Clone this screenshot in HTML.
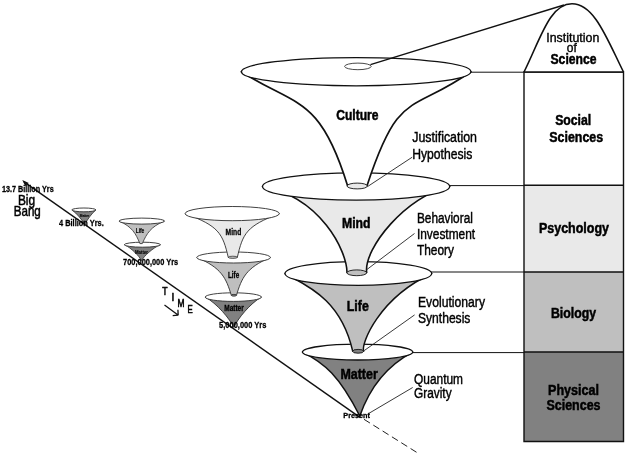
<!DOCTYPE html>
<html><head><meta charset="utf-8"><title>Tree of Knowledge</title>
<style>
html,body{margin:0;padding:0;background:#fff;}
body{width:639px;height:458px;overflow:hidden;}
svg{display:block;font-family:"Liberation Sans",sans-serif;filter:grayscale(1) blur(0.3px);}
</style></head><body>
<svg width="639" height="458" viewBox="0 0 639 458">
<rect x="0" y="0" width="639" height="458" fill="#fff"/>
<rect x="524" y="72" width="99.5" height="113.2" fill="#fff"/>
<rect x="524" y="185.2" width="99.5" height="87" fill="#e9e9e9"/>
<rect x="524" y="272" width="99.5" height="80" fill="#bfbfbf"/>
<rect x="524" y="352" width="99.5" height="89.5" fill="#818181"/>
<path d="M524,72 V441.5 H623.5 V72 Z M524,185.2 H623.5 M524,272 H623.5 M524,352 H623.5" fill="none" stroke="#111" stroke-width="1.4"/>
<path d="M524,72 C540.5,39 549.5,3.8 572,3.8 C594.5,3.8 607,39 623.5,72" fill="#fff" stroke="#111" stroke-width="1.6"/>
<path d="M524,72 H623.5" stroke="#111" stroke-width="1.4"/>
<path d="M471,72.2 H524 M449.7,185.6 H524 M430,272 H524 M412.7,352.6 H524" stroke="#111" stroke-width="1" fill="none"/>
<path d="M24,181.9 L360.3,417.6" stroke="#111" stroke-width="1.4" fill="none"/>
<path d="M22.3,180.1 L28.8,182.9 L25.2,186.1 Z" fill="#111"/>
<path d="M364,419.3 L418,453.2" stroke="#222" stroke-width="1" stroke-dasharray="7,4" fill="none"/>
<path d="M302.5,352.1 C324.5,363.0 339.2,375.9 359.8,416.0 C369.3,388.5 385.4,366.5 412.7,352.1 Z" fill="#818181" stroke="#111" stroke-width="1.5" stroke-linejoin="round"/>
<ellipse cx="357.6" cy="352.1" rx="55.1" ry="7.9" fill="#fff" stroke="#111" stroke-width="1.3"/>
<path d="M285.0,273.5 C306.9,285.7 340.9,299.1 352.7,351.2 L363.6,351.2 C361.2,343.6 378.4,298.4 431.7,273.5 Z" fill="#bfbfbf" stroke="#111" stroke-width="1.5" stroke-linejoin="round"/>
<ellipse cx="358.35" cy="273.5" rx="73.35" ry="11.9" fill="#fff" stroke="#111" stroke-width="1.3"/>
<ellipse cx="358.1" cy="351.3" rx="5.5" ry="1.9" fill="#818181" stroke="#111" stroke-width="0.9"/>
<path d="M262.5,186.5 C320.4,197.0 346.9,250.7 347.0,272.5 L366.7,272.5 C363.4,248.6 406.5,195.4 449.7,186.5 Z" fill="#e9e9e9" stroke="#111" stroke-width="1.6" stroke-linejoin="round"/>
<ellipse cx="356.1" cy="186.5" rx="93.6" ry="13.6" fill="#fff" stroke="#111" stroke-width="1.3"/>
<ellipse cx="356.8" cy="272.8" rx="9.9" ry="2.9" fill="#bfbfbf" stroke="#111" stroke-width="0.9"/>
<path d="M241.4,71.7 C296.1,106.9 319.5,94.9 347.5,185.5 L367.1,185.5 C399.0,88.4 410.5,113.9 470.9,71.7 Z" fill="#fff" stroke="#111" stroke-width="1.7" stroke-linejoin="round"/>
<ellipse cx="356.15" cy="71.7" rx="114.75" ry="14.1" fill="#fff" stroke="#111" stroke-width="1.3"/>
<ellipse cx="357.2" cy="186" rx="10.2" ry="2.9" fill="#e9e9e9" stroke="#111" stroke-width="0.9"/>
<ellipse cx="357.9" cy="66.4" rx="13.3" ry="3.3" fill="#fff" stroke="#333" stroke-width="0.9"/>
<path d="M370.5,64.6 L564,5" stroke="#111" stroke-width="1.5" fill="none"/>
<path d="M367.5,186.6 L412.2,157.2 M366.8,269.6 L414.5,233.5 M364.2,350.6 L414.6,314.9 M368.5,413.6 L412.7,387.5" stroke="#222" stroke-width="0.9" fill="none"/>
<text x="336.2" y="120.1" font-size="14.5" stroke="#000" stroke-width="0.5" font-weight="bold" textLength="42.3" lengthAdjust="spacingAndGlyphs" fill="#000">Culture</text>
<text x="342" y="228.2" font-size="14.5" stroke="#000" stroke-width="0.5" font-weight="bold" textLength="28.5" lengthAdjust="spacingAndGlyphs" fill="#000">Mind</text>
<text x="346.8" y="311.4" font-size="14.5" stroke="#000" stroke-width="0.5" font-weight="bold" textLength="22" lengthAdjust="spacingAndGlyphs" fill="#000">Life</text>
<text x="340.4" y="379.1" font-size="14.5" stroke="#000" stroke-width="0.5" font-weight="bold" textLength="37.4" lengthAdjust="spacingAndGlyphs" fill="#000">Matter</text>
<text x="343.3" y="417.5" font-size="8" stroke="#000" stroke-width="0.3" font-weight="bold" textLength="26.7" lengthAdjust="spacingAndGlyphs" fill="#000">Present</text>
<text x="412.2" y="142.3" font-size="13.8" stroke="#000" stroke-width="0.4" textLength="64.8" lengthAdjust="spacingAndGlyphs" fill="#000">Justification</text>
<text x="412.2" y="158.5" font-size="13.8" stroke="#000" stroke-width="0.4" textLength="60.1" lengthAdjust="spacingAndGlyphs" fill="#000">Hypothesis</text>
<text x="416.9" y="222.8" font-size="13.8" stroke="#000" stroke-width="0.4" textLength="56" lengthAdjust="spacingAndGlyphs" fill="#000">Behavioral</text>
<text x="416.9" y="238.9" font-size="13.8" stroke="#000" stroke-width="0.4" textLength="58.2" lengthAdjust="spacingAndGlyphs" fill="#000">Investment</text>
<text x="416.9" y="254.9" font-size="13.8" stroke="#000" stroke-width="0.4" textLength="37.1" lengthAdjust="spacingAndGlyphs" fill="#000">Theory</text>
<text x="418" y="306.8" font-size="13.8" stroke="#000" stroke-width="0.4" textLength="67" lengthAdjust="spacingAndGlyphs" fill="#000">Evolutionary</text>
<text x="418" y="322.5" font-size="13.8" stroke="#000" stroke-width="0.4" textLength="52.4" lengthAdjust="spacingAndGlyphs" fill="#000">Synthesis</text>
<text x="414" y="384.2" font-size="13.8" stroke="#000" stroke-width="0.4" textLength="49" lengthAdjust="spacingAndGlyphs" fill="#000">Quantum</text>
<text x="414" y="397.8" font-size="13.8" stroke="#000" stroke-width="0.4" textLength="37.6" lengthAdjust="spacingAndGlyphs" fill="#000">Gravity</text>
<text x="572.8" y="41.5" font-size="13.5" stroke="#000" stroke-width="0.4" text-anchor="middle" textLength="53" lengthAdjust="spacingAndGlyphs" fill="#000">Institution</text>
<text x="571.8" y="52" font-size="13.5" stroke="#000" stroke-width="0.4" text-anchor="middle" textLength="10" lengthAdjust="spacingAndGlyphs" fill="#000">of</text>
<text x="573.5" y="63.5" font-size="14.5" stroke="#000" stroke-width="0.5" font-weight="bold" text-anchor="middle" textLength="46" lengthAdjust="spacingAndGlyphs" fill="#000">Science</text>
<text x="573.2" y="124.6" font-size="14.5" stroke="#000" stroke-width="0.5" font-weight="bold" text-anchor="middle" textLength="36" lengthAdjust="spacingAndGlyphs" fill="#000">Social</text>
<text x="576.2" y="142" font-size="14.5" stroke="#000" stroke-width="0.5" font-weight="bold" text-anchor="middle" textLength="53.8" lengthAdjust="spacingAndGlyphs" fill="#000">Sciences</text>
<text x="574" y="233" font-size="14.5" stroke="#000" stroke-width="0.5" font-weight="bold" text-anchor="middle" textLength="70" lengthAdjust="spacingAndGlyphs" fill="#000">Psychology</text>
<text x="573.5" y="318" font-size="14.5" stroke="#000" stroke-width="0.5" font-weight="bold" text-anchor="middle" textLength="45" lengthAdjust="spacingAndGlyphs" fill="#000">Biology</text>
<text x="573.5" y="395" font-size="14.5" stroke="#000" stroke-width="0.5" font-weight="bold" text-anchor="middle" textLength="51" lengthAdjust="spacingAndGlyphs" fill="#000">Physical</text>
<text x="573.5" y="410" font-size="14.5" stroke="#000" stroke-width="0.5" font-weight="bold" text-anchor="middle" textLength="54" lengthAdjust="spacingAndGlyphs" fill="#000">Sciences</text>
<path d="M71.9,209.9 C77.1,213.6 82.2,220.1 84.8,224.5 C87.0,220.1 91.5,213.6 95.9,209.9 Z" fill="#818181" stroke="#2c2c2c" stroke-width="0.8" stroke-linejoin="round"/>
<ellipse cx="83.9" cy="209.9" rx="12" ry="1.9" fill="#fff" stroke="#2c2c2c" stroke-width="0.9"/>
<path d="M124.4,244.7 C131.2,247.9 139.3,256.1 141.5,260.6 C144.0,256.1 152.8,247.9 160.4,244.7 Z" fill="#818181" stroke="#2c2c2c" stroke-width="0.8" stroke-linejoin="round"/>
<ellipse cx="142.4" cy="244.7" rx="18" ry="2.5" fill="#fff" stroke="#2c2c2c" stroke-width="0.9"/>
<path d="M119.2,221.1 C132.0,226.7 135.8,233.5 139.9,243.6 L142.3,243.6 C146.7,233.5 150.7,226.7 164.4,221.1 Z" fill="#bfbfbf" stroke="#2c2c2c" stroke-width="0.8" stroke-linejoin="round"/>
<ellipse cx="141.8" cy="221.1" rx="22.6" ry="3.0" fill="#fff" stroke="#2c2c2c" stroke-width="0.9"/>
<path d="M205.2,297.1 C216.6,303.2 230.1,319.0 233.8,327.5 C237.4,319.0 250.4,303.2 261.4,297.1 Z" fill="#818181" stroke="#2c2c2c" stroke-width="0.9" stroke-linejoin="round"/>
<ellipse cx="233.3" cy="297.1" rx="28.1" ry="4.3" fill="#fff" stroke="#2c2c2c" stroke-width="0.9"/>
<path d="M196.8,257.5 C221.6,267.7 226.1,278.2 231.3,295.2 L236.5,295.2 C241.6,278.2 246.0,267.7 270.4,257.5 Z" fill="#bfbfbf" stroke="#2c2c2c" stroke-width="0.9" stroke-linejoin="round"/>
<ellipse cx="233.6" cy="257.5" rx="36.8" ry="5.5" fill="#fff" stroke="#2c2c2c" stroke-width="0.9"/>
<ellipse cx="233.9" cy="295.3" rx="2.6" ry="0.9" fill="#818181" stroke="#222" stroke-width="0.7"/>
<path d="M185.1,213.6 C218.8,225.9 222.7,233.4 228.3,257.5 L237.3,257.5 C242.8,233.4 246.5,225.9 279.3,213.6 Z" fill="#e9e9e9" stroke="#2c2c2c" stroke-width="0.9" stroke-linejoin="round"/>
<ellipse cx="232.2" cy="213.6" rx="47.1" ry="7.1" fill="#fff" stroke="#2c2c2c" stroke-width="0.9"/>
<ellipse cx="232.8" cy="257.3" rx="4.5" ry="1.1" fill="#bfbfbf" stroke="#222" stroke-width="0.7"/>
<text x="233.4" y="234.9" font-size="8.2" stroke="#000" stroke-width="0.3" font-weight="bold" text-anchor="middle" textLength="15.7" lengthAdjust="spacingAndGlyphs" fill="#000">Mind</text>
<text x="233.6" y="278.2" font-size="8.2" stroke="#000" stroke-width="0.3" font-weight="bold" text-anchor="middle" textLength="11.2" lengthAdjust="spacingAndGlyphs" fill="#000">Life</text>
<text x="234" y="310.9" font-size="8.2" stroke="#000" stroke-width="0.3" font-weight="bold" text-anchor="middle" textLength="19.5" lengthAdjust="spacingAndGlyphs" fill="#000">Matter</text>
<text x="140" y="232.9" font-size="6.5" stroke="#000" stroke-width="0.15" font-weight="bold" text-anchor="middle" textLength="8.7" lengthAdjust="spacingAndGlyphs" fill="#000">Life</text>
<text x="141.5" y="253.6" font-size="5" stroke="#000" stroke-width="0.1" font-weight="bold" text-anchor="middle" textLength="13" lengthAdjust="spacingAndGlyphs" fill="#000">Matter</text>
<text x="84.5" y="216.5" font-size="4" stroke="#000" stroke-width="0.1" font-weight="bold" text-anchor="middle" textLength="9.5" lengthAdjust="spacingAndGlyphs" fill="#000">Matter</text>
<text x="2" y="192" font-size="9.4" stroke="#000" stroke-width="0.3" font-weight="bold" textLength="51.7" lengthAdjust="spacingAndGlyphs" fill="#000">13.7 Billion Yrs</text>
<text x="17.9" y="204.9" font-size="14.2" stroke="#000" stroke-width="0.5" textLength="17.2" lengthAdjust="spacingAndGlyphs" fill="#000">Big</text>
<text x="13.7" y="216" font-size="14.2" stroke="#000" stroke-width="0.5" textLength="27.1" lengthAdjust="spacingAndGlyphs" fill="#000">Bang</text>
<text x="59" y="225.6" font-size="9.4" stroke="#000" stroke-width="0.3" font-weight="bold" textLength="44.8" lengthAdjust="spacingAndGlyphs" fill="#000">4 Billion Yrs.</text>
<text x="123.1" y="264.7" font-size="9.4" stroke="#000" stroke-width="0.3" font-weight="bold" textLength="55.1" lengthAdjust="spacingAndGlyphs" fill="#000">700,000,000 Yrs</text>
<text x="219.1" y="327.7" font-size="9.4" stroke="#000" stroke-width="0.3" font-weight="bold" textLength="47.3" lengthAdjust="spacingAndGlyphs" fill="#000">5,000,000 Yrs</text>
<text x="165" y="295.1" font-size="10" stroke="#000" stroke-width="0.55" text-anchor="middle" textLength="5.3" lengthAdjust="spacingAndGlyphs" fill="#000">T</text>
<text x="172.9" y="300.6" font-size="10" stroke="#000" stroke-width="0.55" text-anchor="middle" fill="#000">I</text>
<text x="181" y="306.7" font-size="10" stroke="#000" stroke-width="0.55" text-anchor="middle" textLength="7" lengthAdjust="spacingAndGlyphs" fill="#000">M</text>
<text x="190.2" y="312.6" font-size="10" stroke="#000" stroke-width="0.55" text-anchor="middle" textLength="5.2" lengthAdjust="spacingAndGlyphs" fill="#000">E</text>
<path d="M164.5,305 L178,315 M178.2,315.2 L172.7,315.7 M178.2,315.2 L177.9,309.8" stroke="#111" stroke-width="1.3" fill="none"/>
</svg>
</body></html>
